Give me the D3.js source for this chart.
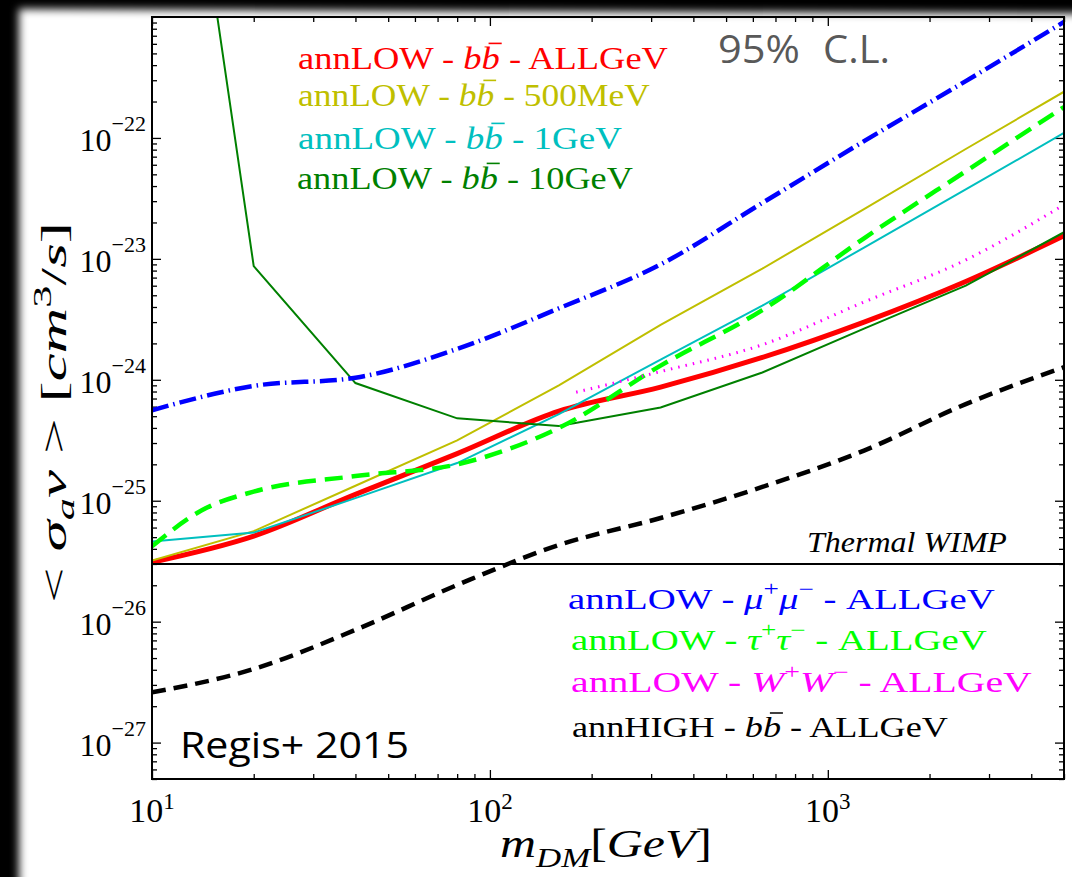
<!DOCTYPE html>
<html><head><meta charset="utf-8">
<script src="https://cdn.jsdelivr.net/npm/d3@7"></script>
<style>html,body{margin:0;padding:0;background:#000;} svg{display:block}</style>
</head><body>
<svg id="chart" width="1072" height="877"></svg>
<script>
// Dark matter annihilation cross-section upper limits (95% C.L.)
const masses   = [10, 20, 40, 80, 160, 320, 640, 1280, 2560, 5000];           // GeV
const bbAll    = [3.1e-26, 5.1e-26, 1.13e-25, 2.45e-25, 5.5e-25, 8.7e-25, 1.53e-24, 3.0e-24, 6.5e-24, 1.55e-23];
const bb500MeV = [3.2e-26, 5.6e-26, 1.33e-25, 3.15e-25, 9.0e-25, 2.85e-24, 8.3e-24, 2.58e-23, 8.1e-23, 2.41e-22];
const bb1GeV   = [4.6e-26, 5.45e-26, 1.05e-25, 2.05e-25, 5.2e-25, 1.47e-24, 4.1e-24, 1.24e-23, 3.75e-23, 1.1e-22];
const bb10GeV  = [5e-18, 8.7e-24, 9.4e-25, 4.8e-25, 4.15e-25, 5.9e-25, 1.15e-24, 2.65e-24, 6.0e-24, 1.66e-23];
const muAll    = [5.6e-25, 8.9e-25, 1.04e-24, 1.8e-24, 3.9e-24, 9.0e-24, 2.9e-23, 9.4e-23, 2.95e-22, 9.1e-22];
const bbHigh   = [2.6e-27, 4.06e-27, 8.55e-27, 2.01e-26, 4.3e-26, 7.2e-26, 1.3e-25, 2.6e-25, 6.3e-25, 1.27e-24];
const tauMasses = [10, 14, 20, 40, 80, 160, 320, 640, 1280, 2560, 5000];
const tauAll    = [4.2e-26, 8.3e-26, 1.19e-25, 1.6e-25, 2.0e-25, 4.0e-25, 1.31e-24, 3.77e-24, 1.48e-23, 5.3e-23, 1.8e-22];
const wwMasses = [180, 320, 640, 1280, 2560, 5000];
const wwAll    = [7.9e-25, 1.17e-24, 1.95e-24, 4.4e-24, 9.8e-24, 2.8e-23];
const thermalWIMP = 3e-26;

const xMajor = [10, 100, 1000];
const yMajor = [1e-27, 1e-26, 1e-25, 1e-24, 1e-23, 1e-22];
const xTickExp = ['1', '2', '3'];
const yTickExp = ['\u221227', '\u221226', '\u221225', '\u221224', '\u221223', '\u221222'];

const W = 1072, H = 877;
const P = {left: 152, right: 1064, top: 17, bottom: 779};
const svg = d3.select('#chart');
const defs = svg.append('defs');

// slide-like backdrop: black surround with a softly shaded white sheet
defs.append('filter').attr('id', 'soft')
  .append('feGaussianBlur').attr('stdDeviation', 4);
svg.append('rect').attr('width', W).attr('height', H).attr('fill', '#000');
svg.append('path').attr('d', 'M19,9 L1200,14 L1200,1000 L19,1000 Z')
  .attr('fill', '#fff').attr('filter', 'url(#soft)');

defs.append('clipPath').attr('id', 'plotclip').append('rect')
  .attr('x', P.left).attr('y', P.top).attr('width', P.right - P.left).attr('height', P.bottom - P.top);

const x = d3.scaleLog().domain([10, 5000]).range([P.left, P.right]);
const y = d3.scaleLog().domain([5e-28, 1e-21]).range([P.bottom, P.top]);

// minor tick values
const xMinor = [];
[10, 100, 1000].forEach(d => { for (let k = 2; k <= 9; k++) { const v = d * k; if (v <= 5000) xMinor.push(v); } });
const yMinor = [];
[1e-28, 1e-27, 1e-26, 1e-25, 1e-24, 1e-23, 1e-22].forEach(d => {
  for (let k = 2; k <= 9; k++) { const v = d * k; if (v >= 5e-28 && v <= 1e-21) yMinor.push(v); }
});

function tickAxis(axisFn, scale, vals, len, tx, ty) {
  const a = axisFn(scale).tickValues(vals).tickSize(-len).tickFormat(() => '');
  const g = svg.append('g').attr('transform', `translate(${tx},${ty})`).call(a);
  g.select('.domain').remove();
  g.selectAll('line').attr('stroke', '#000').attr('stroke-width', 1.3);
}
tickAxis(d3.axisBottom, x, xMajor, 9, 0, P.bottom);
tickAxis(d3.axisBottom, x, xMinor, 5, 0, P.bottom);
tickAxis(d3.axisTop, x, xMajor, 9, 0, P.top);
tickAxis(d3.axisTop, x, xMinor, 5, 0, P.top);
tickAxis(d3.axisLeft, y, yMajor, 9, P.left, 0);
tickAxis(d3.axisLeft, y, yMinor, 5, P.left, 0);
tickAxis(d3.axisRight, y, yMajor, 9, P.right, 0);
tickAxis(d3.axisRight, y, yMinor, 5, P.right, 0);

// curves
const plot = svg.append('g').attr('clip-path', 'url(#plotclip)');
const series = [
  {m: masses, v: bbAll,    color: '#ff0000', w: 5,   dash: null,          curve: d3.curveMonotoneX},
  {m: masses, v: bb500MeV, color: '#bfbf00', w: 2,   dash: null,          curve: d3.curveLinear},
  {m: masses, v: bb1GeV,   color: '#00bfbf', w: 2,   dash: null,          curve: d3.curveLinear},
  {m: masses, v: bb10GeV,  color: '#008000', w: 2,   dash: null,          curve: d3.curveLinear},
  {m: masses, v: muAll,    color: '#0000ff', w: 4.5, dash: '17,5,1.5,5',  curve: d3.curveMonotoneX},
  {m: tauMasses, v: tauAll, color: '#00ff00', w: 4.5, dash: '18,9',       curve: d3.curveMonotoneX},
  {m: wwMasses, v: wwAll,  color: '#ff00ff', w: 3,   dash: '1.5,6',       curve: d3.curveMonotoneX},
  {m: masses, v: bbHigh,   color: '#000000', w: 4.5, dash: '14,8',        curve: d3.curveMonotoneX}
];
series.forEach(s => {
  const pts = s.m.map((m, i) => [m, s.v[i]]);
  const ln = d3.line().x(d => x(d[0])).y(d => y(d[1])).curve(s.curve);
  plot.append('path').attr('d', ln(pts)).attr('fill', 'none')
    .attr('stroke', s.color).attr('stroke-width', s.w)
    .attr('stroke-dasharray', s.dash);
});

// thermal relic line
svg.append('line').attr('x1', P.left).attr('x2', P.right)
  .attr('y1', y(thermalWIMP)).attr('y2', y(thermalWIMP))
  .attr('stroke', '#000').attr('stroke-width', 2);

// frame
svg.append('rect').attr('x', P.left).attr('y', P.top)
  .attr('width', P.right - P.left).attr('height', P.bottom - P.top)
  .attr('fill', 'none').attr('stroke', '#000').attr('stroke-width', 2);

// tick labels
const serif = "'Liberation Serif', 'Times New Roman', serif";
yMajor.forEach((v, i) => {
  const t = svg.append('text').attr('x', 146).attr('y', y(v) + 13)
    .attr('text-anchor', 'end').attr('font-family', serif).attr('font-size', 32).attr('fill', '#000');
  t.append('tspan').text('10');
  t.append('tspan').attr('dy', -20).attr('font-size', 22).text(yTickExp[i]);
});
xMajor.forEach((v, i) => {
  const t = svg.append('text').attr('x', x(v)).attr('y', 822)
    .attr('text-anchor', 'middle').attr('font-family', serif).attr('font-size', 34).attr('fill', '#000');
  t.append('tspan').text('10');
  t.append('tspan').attr('dy', -13).attr('font-size', 23).text(xTickExp[i]);
});

// text with italic / super / subscript runs, stretched to a given width
function rich(x0, base, targetW, fs, color, parts, opts = {}) {
  const g = svg.append('g');
  const t = g.append('text').attr('font-family', opts.family || serif)
    .attr('font-size', fs).attr('fill', color).style('white-space', 'pre')
    .attr('font-style', opts.italic ? 'italic' : 'normal');
  let shift = 0, idx = 0;
  const bars = [];
  parts.forEach(p => {
    const ts = t.append('tspan').text(p.t);
    if (p.it !== undefined) ts.attr('font-style', p.it ? 'italic' : 'normal');
    const want = p.sup ? -(opts.supShift || 0.42) * fs : p.sub ? (opts.subShift || 0.22) * fs : 0;
    if (want !== shift) { ts.attr('dy', want - shift); shift = want; }
    if (p.sup || p.sub) ts.attr('font-size', fs * 0.7);
    if (p.bar) bars.push(idx);
    idx += p.t.length;
  });
  const n = t.node();
  bars.forEach(i => {
    const s = n.getStartPositionOfChar(i).x, e = n.getEndPositionOfChar(i).x;
    g.append('line').attr('x1', s + 0.38 * (e - s)).attr('x2', e + 0.1 * (e - s))
      .attr('y1', -0.8 * fs).attr('y2', -0.8 * fs)
      .attr('stroke', color).attr('stroke-width', fs * 0.05);
  });
  const w = n.getComputedTextLength();
  const sx = targetW / w;
  const rot = opts.rotate ? ` rotate(${opts.rotate})` : '';
  g.attr('transform', `translate(${x0},${base})${rot} scale(${sx},1)`);
  return g;
}

const bbParts = (pre, post) => [
  {t: pre}, {t: 'b', it: true}, {t: 'b', it: true, bar: true}, {t: post}
];
// upper legend block
rich(298, 69, 370, 32, '#ff0000', bbParts('annLOW - ', ' - ALLGeV'));
rich(298, 106, 352, 32, '#bfbf00', bbParts('annLOW - ', ' - 500MeV'));
rich(298, 149, 324, 32, '#00bfbf', bbParts('annLOW - ', ' - 1GeV'));
rich(297, 189, 336, 32, '#008000', bbParts('annLOW - ', ' - 10GeV'));

// lower legend block
rich(568, 609, 427, 30, '#0000ff', [
  {t: 'annLOW - '}, {t: '\u03bc', it: true}, {t: '+', sup: true}, {t: '\u03bc', it: true},
  {t: '\u2212', sup: true}, {t: ' - ALLGeV'}]);
rich(571, 650, 416, 30, '#00ff00', [
  {t: 'annLOW - '}, {t: '\u03c4', it: true}, {t: '+', sup: true}, {t: '\u03c4', it: true},
  {t: '\u2212', sup: true}, {t: ' - ALLGeV'}]);
rich(571, 692, 461, 30, '#ff00ff', [
  {t: 'annLOW - '}, {t: 'W', it: true}, {t: '+', sup: true}, {t: 'W', it: true},
  {t: '\u2212', sup: true}, {t: ' - ALLGeV'}]);
rich(572, 737, 376, 30, '#000000', bbParts('annHIGH - ', ' - ALLGeV'));

// annotations
rich(807, 552, 200, 30, '#000', [{t: 'Thermal WIMP', it: true}]);
const sans = "'Open Sans', 'Noto Sans', sans-serif";
rich(718, 63, 82, 39, '#595959', [{t: '95%'}], {family: sans});
rich(823, 63, 67, 39, '#595959', [{t: 'C.L.'}], {family: sans});
rich(180, 758, 229, 37, '#000', [{t: 'Regis+ 2015'}], {family: sans});

// axis titles
rich(500, 857, 212, 40, '#000', [
  {t: 'm', it: true}, {t: 'DM', it: true, sub: true}, {t: '[', it: false}, {t: 'GeV', it: true}, {t: ']', it: false}
], {subShift: 0.25});
rich(66, 603, 381, 36, '#000', [
  {t: '< '}, {t: '\u03c3', it: true}, {t: 'a', it: true, sub: true}, {t: 'v', it: true},
  {t: ' > ['}, {t: 'cm', it: true}, {t: '3', sup: true}, {t: '/', it: false}, {t: 's', it: true}, {t: ']'}
], {rotate: -90});
</script>
</body></html>
